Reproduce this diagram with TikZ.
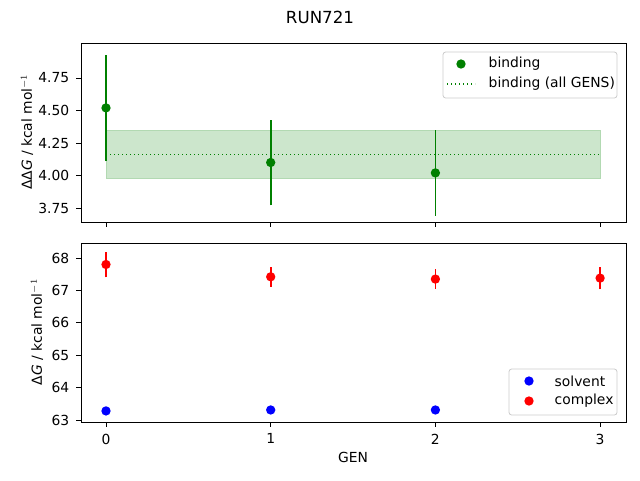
\documentclass[tikz,border=0pt]{standalone}
\usepackage{fontspec}
\setmainfont{DejaVu Sans}
\definecolor{mgreen}{HTML}{008000}
\definecolor{band}{HTML}{CCE6CC}
\definecolor{bandedge}{HTML}{B2D9B2}
\begin{document}
\begin{tikzpicture}[x=0.75pt,y=-0.75pt,
  declare function={tx(\v)=106+164.7*\v; ty(\v)=78+(4.75-\v)*130; by(\v)=258+(68-\v)*32.4;},
  tick/.style={font=\fontsize{10.4}{12}\selectfont},
  ax/.style={line width=0.6pt},
  dot/.style={circle,inner sep=0pt,minimum size=7pt},
  ebar/.style={line width=1.2pt},
  meanline/.style={mgreen,line width=1.1pt,dash pattern=on 1.1pt off 1.9pt}]
\useasboundingbox (0,0) rectangle (640,480);
\node[font=\fontsize{12.5}{14}\selectfont] (title) at (320,17) {RUN721};
% top axes
\fill[band,draw=bandedge] ({tx(0)},{ty(4.345)}) rectangle ({tx(3)},{ty(3.975)});
\draw[meanline] ({tx(0)},{ty(4.16)}) -- ({tx(3)},{ty(4.16)});
\foreach \x/\m/\lo/\hi in {0/4.52/4.11/4.93, 1/4.10/3.77/4.43, 2/4.02/3.69/4.35}{
  \draw[mgreen,ebar] ({tx(\x)},{ty(\lo)}) -- ({tx(\x)},{ty(\hi)});
  \node[dot,fill=mgreen] at ({tx(\x)},{ty(\m)}) {};
}
\draw[ax] (81,43) rectangle (626,222);
\foreach \x in {0,1,2,3} \draw[ax] ({tx(\x)},222) -- ({tx(\x)},227);
\foreach \v in {3.75,4.00,4.25,4.50,4.75}{
  \draw[ax] (81,{ty(\v)}) -- (76,{ty(\v)});
  \node[tick,anchor=east] at (74,{ty(\v)}) {\v};
}
\node[tick,rotate=90] (ylab1) at (27,132) {ΔΔ\textit{G} / kcal mol$^{-1}$};
% top legend
\draw[line width=0.6pt,draw=black!20,fill=white,rounded corners=2pt] (443,52) rectangle (617,98);
\node[dot,fill=mgreen] (l1) at (461,64) {};
\node[tick,anchor=west] at (484,64) {binding};
\draw[meanline] (447,84) -- (475,84);
\node[tick,anchor=west] (l2) at (484,84) {binding (all GENS)};
% bottom axes
\foreach \x/\m/\e in {0/67.80/0.40, 1/67.42/0.30, 2/67.35/0.30, 3/67.38/0.35}{
  \draw[red,ebar] ({tx(\x)},{by(\m-\e)}) -- ({tx(\x)},{by(\m+\e)});
  \node[dot,fill=red] at ({tx(\x)},{by(\m)}) {};
}
\foreach \x/\m in {0/63.28, 1/63.31, 2/63.31}
  \node[dot,fill=blue] at ({tx(\x)},{by(\m)}) {};
\draw[ax] (81,243) rectangle (626,422);
\foreach \x in {0,1,2,3}{
  \draw[ax] ({tx(\x)},422) -- ({tx(\x)},427);
  \node[tick,anchor=north] at ({tx(\x)},429) {\x};
}
\foreach \v in {63,64,65,66,67,68}{
  \draw[ax] (81,{by(\v)}) -- (76,{by(\v)});
  \node[tick,anchor=east] at (74,{by(\v)}) {\v};
}
\node[tick,rotate=90] (ylab2) at (37,332) {Δ\textit{G} / kcal mol$^{-1}$};
\node[tick] (xlab) at (353,457) {GEN};
% bottom legend
\draw[line width=0.6pt,draw=black!20,fill=white,rounded corners=2pt] (509,369) rectangle (617,415);
\node[dot,fill=blue] (l3) at (529,381) {};
\node[tick,anchor=west] at (550,381) {solvent};
\node[dot,fill=red] (l4) at (529,401) {};
\node[tick,anchor=west] at (550,401) {complex};
\end{tikzpicture}
\end{document}
